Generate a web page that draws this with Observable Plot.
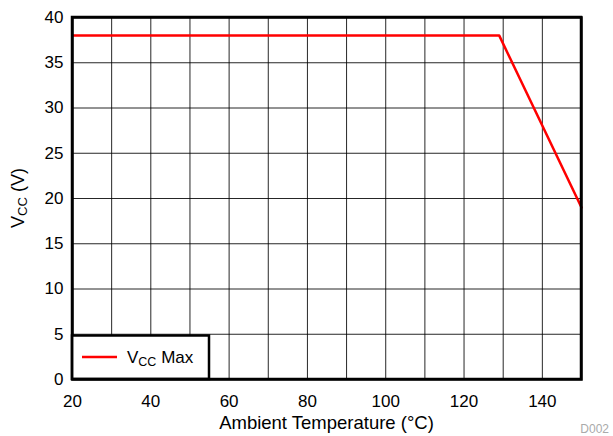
<!DOCTYPE html>
<html>
<head>
<meta charset="utf-8">
<script src="https://cdn.jsdelivr.net/npm/d3@7"></script>
<script src="https://cdn.jsdelivr.net/npm/@observablehq/plot@0.6"></script>
<style>
  html, body { margin: 0; padding: 0; background: #fff; }
  #chart { position: relative; width: 613px; height: 436px; }
  svg { font-family: "Liberation Sans", Arial, Helvetica, sans-serif; }
</style>
</head>
<body>
<div id="chart"></div>
<script>
// Data
const temperature = [20, 129, 150];
const vccMax = [38, 38, 19];
const xTickLabels = [20, 40, 60, 80, 100, 120, 140];
const xGridLines = [30, 40, 50, 60, 70, 80, 90, 100, 110, 120, 130, 140];
const yTickLabels = [0, 5, 10, 15, 20, 25, 30, 35, 40];
const yGridLines = [5, 10, 15, 20, 25, 30, 35];
const seriesName = "Max";

const data = temperature.map((t, i) => ({t, v: vccMax[i]}));

const FONT = "'Liberation Sans', Arial, Helvetica, sans-serif";

const plot = Plot.plot({
  width: 613,
  height: 436,
  marginLeft: 72,
  marginRight: 32,
  marginTop: 17,
  marginBottom: 57,
  style: {fontSize: "17px", fontFamily: FONT, color: "#000", background: "#fff"},
  x: {domain: [20, 150]},
  y: {domain: [0, 40]},
  marks: [
    Plot.ruleX(xGridLines, {stroke: "#000", strokeWidth: 1, strokeOpacity: 0.85}),
    Plot.ruleY(yGridLines, {stroke: "#000", strokeWidth: 1, strokeOpacity: 0.85}),
    Plot.axisX({ticks: xTickLabels, tickSize: 0, tickPadding: 15, label: null, fontSize: 17}),
    Plot.axisY({ticks: yTickLabels, tickSize: 0, tickPadding: 9, label: null, fontSize: 17}),
    Plot.line(data, {x: "t", y: "v", stroke: "#ff0000", strokeWidth: 2.5, curve: "linear", strokeLinejoin: "round"}),
    Plot.frame({stroke: "#000", strokeWidth: 2.5})
  ]
});

document.getElementById("chart").appendChild(plot);

const svg = d3.select(plot);
const xs = plot.scale("x"), ys = plot.scale("y");
const x0 = xs.apply(20), x1 = xs.apply(150);
const y0 = ys.apply(0), y1 = ys.apply(40);

// Legend (lower-left, inside plot)
const lg = svg.append("g").attr("text-anchor", "start");
lg.append("rect")
  .attr("x", x0).attr("y", y0 - 43.5)
  .attr("width", 137).attr("height", 43.5)
  .attr("fill", "#fff").attr("stroke", "#000").attr("stroke-width", 2.5);
lg.append("line")
  .attr("x1", x0 + 10).attr("x2", x0 + 45)
  .attr("y1", y0 - 22).attr("y2", y0 - 22)
  .attr("stroke", "#ff0000").attr("stroke-width", 2.5);
const lt = lg.append("text")
  .attr("x", x0 + 55).attr("y", y0 - 16)
  .attr("text-anchor", "start")
  .attr("font-size", 17).attr("fill", "#000");
lt.append("tspan").text("V");
lt.append("tspan").attr("font-size", 12.5).attr("dy", 3).text("CC");
lt.append("tspan").attr("dy", -3).text(" " + seriesName);

// Re-draw frame on top of legend
svg.append("rect")
  .attr("x", x0).attr("y", y1).attr("width", x1 - x0).attr("height", y0 - y1)
  .attr("fill", "none").attr("stroke", "#000").attr("stroke-width", 2.5);

// X axis label
svg.append("text")
  .attr("x", (x0 + x1) / 2).attr("y", 428.5)
  .attr("text-anchor", "middle").attr("font-size", 18.5).attr("fill", "#000")
  .text("Ambient Temperature (°C)");

// Y axis label with subscript
const yl = svg.append("text")
  .attr("transform", `translate(24,${(y0 + y1) / 2}) rotate(-90)`)
  .attr("text-anchor", "middle").attr("font-size", 18).attr("fill", "#000");
yl.append("tspan").text("V");
yl.append("tspan").attr("font-size", 13).attr("dy", 3).text("CC");
yl.append("tspan").attr("dy", -3).text(" (V)");

// Figure id
svg.append("text")
  .attr("x", 609).attr("y", 433)
  .attr("text-anchor", "end").attr("font-size", 12).attr("fill", "#aaa")
  .text("D002");
</script>
</body>
</html>
